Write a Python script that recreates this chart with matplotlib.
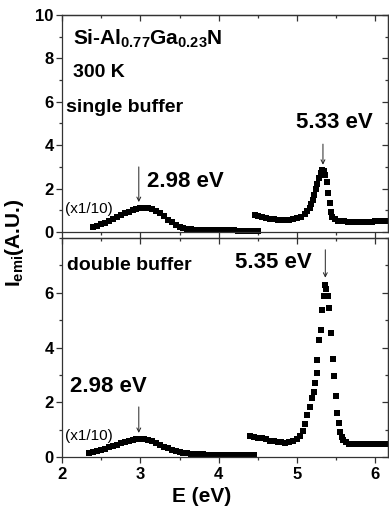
import matplotlib
matplotlib.use("Agg")
import matplotlib.pyplot as plt
from matplotlib.ticker import MultipleLocator, FixedLocator

plt.rcParams['font.family'] = ['Liberation Sans', 'DejaVu Sans']
plt.rcParams['font.weight'] = 'bold'
plt.rcParams['mathtext.fontset'] = 'custom'
plt.rcParams['mathtext.rm'] = 'Liberation Sans:bold'
plt.rcParams['mathtext.it'] = 'Liberation Sans:bold'
plt.rcParams['mathtext.bf'] = 'Liberation Sans:bold'
plt.rcParams['mathtext.default'] = 'rm'

# ---- data: single buffer (top) ----
top_low_x = [2.40, 2.45, 2.50, 2.55, 2.60, 2.65, 2.70, 2.75, 2.80, 2.85, 2.90, 2.95,
             3.00, 3.05, 3.10, 3.15, 3.20, 3.25, 3.30, 3.35, 3.40, 3.45, 3.50, 3.55,
             3.60, 3.65, 3.70, 3.75, 3.80, 3.85, 3.90, 3.95, 4.00, 4.05, 4.10, 4.15,
             4.20, 4.25, 4.30, 4.35, 4.40, 4.45, 4.50]
top_low_y = [0.22, 0.28, 0.35, 0.42, 0.50, 0.59, 0.68, 0.77, 0.86, 0.94, 1.01, 1.06,
             1.09, 1.11, 1.10, 1.06, 0.98, 0.86, 0.72, 0.57, 0.44, 0.33, 0.24, 0.18,
             0.14, 0.12, 0.10, 0.09, 0.09, 0.08, 0.08, 0.08, 0.07, 0.07, 0.07, 0.07,
             0.07, 0.06, 0.06, 0.06, 0.06, 0.06, 0.06]
top_high_x = [4.46, 4.50, 4.55, 4.60, 4.65, 4.70, 4.75, 4.80, 4.85, 4.90, 4.95, 5.00,
              5.05, 5.10, 5.13, 5.16, 5.18, 5.20, 5.22, 5.24, 5.26, 5.28, 5.30, 5.32,
              5.34, 5.36, 5.38, 5.40, 5.415, 5.43, 5.45, 5.48, 5.52, 5.56, 5.60, 5.65,
              5.70, 5.75, 5.80, 5.85, 5.90, 5.95, 6.00, 6.05, 6.10, 6.15]
top_high_y = [0.80, 0.74, 0.69, 0.65, 0.62, 0.59, 0.57, 0.55, 0.55, 0.56, 0.59, 0.64,
              0.71, 0.84, 0.96, 1.12, 1.28, 1.48, 1.72, 1.97, 2.22, 2.47, 2.70, 2.86,
              2.82, 2.62, 2.32, 1.78, 1.32, 0.94, 0.70, 0.58, 0.52, 0.50, 0.49, 0.48,
              0.48, 0.47, 0.46, 0.46, 0.47, 0.48, 0.49, 0.50, 0.50, 0.50]

# ---- data: double buffer (bottom) ----
bot_low_x = [2.35, 2.40, 2.45, 2.50, 2.55, 2.60, 2.65, 2.70, 2.75, 2.80, 2.85, 2.90,
             2.95, 3.00, 3.05, 3.10, 3.15, 3.20, 3.25, 3.30, 3.35, 3.40, 3.45, 3.50,
             3.55, 3.60, 3.65, 3.70, 3.75, 3.80, 3.85, 3.90, 3.95, 4.00, 4.05, 4.10,
             4.15, 4.20, 4.25, 4.30, 4.35, 4.40, 4.45]
bot_low_y = [0.15, 0.18, 0.21, 0.25, 0.30, 0.35, 0.40, 0.45, 0.50, 0.55, 0.59, 0.63,
             0.65, 0.66, 0.65, 0.63, 0.58, 0.52, 0.45, 0.38, 0.32, 0.26, 0.22, 0.18,
             0.15, 0.13, 0.12, 0.11, 0.10, 0.10, 0.09, 0.09, 0.09, 0.08, 0.08, 0.08,
             0.08, 0.08, 0.08, 0.08, 0.08, 0.08, 0.08]
bot_high_x = [4.40, 4.45, 4.50, 4.55, 4.60, 4.65, 4.70, 4.75, 4.80, 4.85, 4.90, 4.95,
              5.00, 5.04, 5.07, 5.10, 5.13, 5.17, 5.19, 5.21, 5.23, 5.25, 5.26, 5.285,
              5.30, 5.32, 5.34, 5.355, 5.375, 5.395, 5.41, 5.435, 5.455, 5.47, 5.495,
              5.515, 5.53, 5.55, 5.57, 5.59, 5.62, 5.66, 5.70, 5.75, 5.80, 5.85, 5.90,
              5.95, 6.00, 6.05, 6.10, 6.15]
bot_high_y = [0.78, 0.74, 0.71, 0.68, 0.64, 0.60, 0.57, 0.55, 0.53, 0.52, 0.54, 0.58,
              0.66, 0.78, 0.95, 1.20, 1.54, 1.84, 2.16, 2.39, 2.70, 3.07, 3.55, 4.28,
              4.65, 5.38, 5.87, 6.29, 6.15, 5.87, 5.45, 4.54, 3.58, 2.96, 2.23,
              1.62, 1.24, 0.93, 0.74, 0.62, 0.53, 0.49, 0.47, 0.46, 0.46, 0.46, 0.46,
              0.46, 0.46, 0.46, 0.46, 0.46]

top_yticks = [0, 2, 4, 6, 8, 10]
bot_yticks = [0, 2, 4, 6]

W, H = 389, 513
fig = plt.figure(figsize=(W / 100, H / 100), dpi=100)
L = 62 / W
R = 388 / W
ax1 = fig.add_axes([L, (H - 232) / H, R - L, (232 - 15) / H])
ax2 = fig.add_axes([L, (H - 457) / H, R - L, (457 - 238) / H])

ms = 4.4
for ax, yt, ymax in ((ax1, top_yticks, 10), (ax2, bot_yticks, 8)):
    ax.set_xlim(2, 6.16)
    ax.set_ylim(0, ymax)
    ax.xaxis.set_major_locator(MultipleLocator(1))
    ax.xaxis.set_minor_locator(MultipleLocator(0.5))
    ax.yaxis.set_major_locator(FixedLocator(yt))
    ax.yaxis.set_minor_locator(MultipleLocator(1))
    for s in ax.spines.values():
        s.set_linewidth(0.9)
        s.set_color('#333333')
    ax.tick_params(axis='both', which='major', length=4, width=0.9, labelsize=12,
                   color='#333333')
    ax.tick_params(axis='both', which='minor', length=2.5, width=0.9, color='#333333')
    ax.tick_params(axis='x', which='both', direction='out', top=False)
    ax.tick_params(axis='y', which='both', direction='out', right=False, pad=2)
    sx = ax.secondary_xaxis('top')
    sx.xaxis.set_major_locator(MultipleLocator(1))
    sx.xaxis.set_minor_locator(MultipleLocator(0.5))
    sx.tick_params(which='both', direction='in', labeltop=False, width=0.9, color='#333333')
    sx.tick_params(which='major', length=4)
    sx.tick_params(which='minor', length=2.5)
    sx.spines['top'].set_linewidth(0.9)
    sx.spines['top'].set_color('#333333')
    sy = ax.secondary_yaxis('right')
    sy.yaxis.set_major_locator(FixedLocator(yt))
    sy.yaxis.set_minor_locator(MultipleLocator(1))
    sy.tick_params(which='both', direction='in', labelright=False, width=0.9, color='#333333')
    sy.tick_params(which='major', length=4)
    sy.tick_params(which='minor', length=2.5)
    sy.spines['right'].set_linewidth(0.9)
    sy.spines['right'].set_color('#333333')

ax1.tick_params(axis='x', labelbottom=False)

for ax, lx, ly, hx, hy in ((ax1, top_low_x, top_low_y, top_high_x, top_high_y),
                           (ax2, bot_low_x, bot_low_y, bot_high_x, bot_high_y)):
    ax.plot(lx, ly, ls='none', marker='s', ms=ms, color='black', mew=0, clip_on=False)
    ax.plot(hx, hy, ls='none', marker='s', ms=ms, color='black', mew=0, clip_on=False)

# text top panel
ax1.text(2.14, 8.62, r"Si-Al$_{0.77}$Ga$_{0.23}$N", fontsize=15, fontweight='bold',
         va='baseline', ha='left')
ax1.text(2.14, 7.16, "300 K", fontsize=14, fontweight='bold', va='baseline', ha='left')
ax1.text(2.05, 5.54, "single buffer", fontsize=14, fontweight='bold', va='baseline', ha='left')
ax1.text(3.09, 2.09, "2.98 eV", fontsize=16, fontweight='bold', va='baseline', ha='left')
ax1.text(2.04, 0.87, "(x1/10)", fontsize=11, fontweight='normal', va='baseline', ha='left')
ax1.text(4.99, 4.79, "5.33 eV", fontsize=16, fontweight='bold', va='baseline', ha='left')
arw = dict(arrowstyle='->', lw=0.7, color='#222222', shrinkA=0, shrinkB=0,
           mutation_scale=7)
ax1.annotate("", xy=(2.98, 1.38), xytext=(2.98, 3.0), arrowprops=arw)
ax1.annotate("", xy=(5.33, 3.1), xytext=(5.33, 4.05), arrowprops=arw)

# text bottom panel
ax2.text(2.06, 6.84, "double buffer", fontsize=14, fontweight='bold', va='baseline', ha='left')
ax2.text(2.10, 2.39, "2.98 eV", fontsize=16, fontweight='bold', va='baseline', ha='left')
ax2.text(2.04, 0.62, "(x1/10)", fontsize=11, fontweight='normal', va='baseline', ha='left')
ax2.text(4.21, 6.9, "5.35 eV", fontsize=16, fontweight='bold', va='baseline', ha='left')
ax2.annotate("", xy=(2.98, 0.88), xytext=(2.98, 1.83), arrowprops=arw)
ax2.annotate("", xy=(5.36, 6.55), xytext=(5.36, 7.57), arrowprops=arw)

fig.text(15 / W, (H - 243) / H, r"I$_{emi}$(A.U.)", rotation=90, fontsize=15,
         fontweight='bold', ha='center', va='center')
fig.text(202 / W, (H - 497) / H, "E (eV)", fontsize=15, fontweight='bold',
         ha='center', va='center')

fig.savefig("out.png", dpi=100)
